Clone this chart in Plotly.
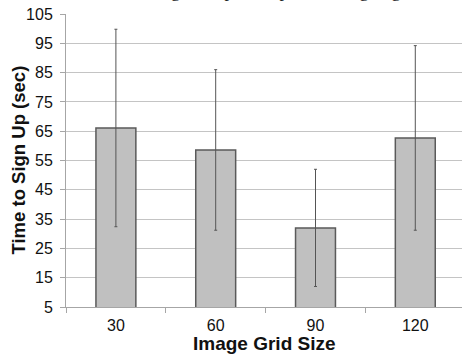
import plotly.graph_objects as go

categories = ["30", "60", "90", "120"]
mean_time = [66.1, 58.6, 32.0, 62.7]
error_time = [33.7, 27.4, 20.0, 31.5]
y_tick_values = [5, 15, 25, 35, 45, 55, 65, 75, 85, 95, 105]

title_text = "Image Setup Time per Grid Signing"

fig = go.Figure()
fig.add_trace(go.Bar(
    x=categories,
    y=mean_time,
    marker=dict(color="#c0c0c0", line=dict(color="#5a5a5a", width=1.5)),
    error_y=dict(type="data", array=error_time, visible=True,
                 color="#555555", thickness=1, width=1.5),
    width=0.4,
))

fig.update_layout(
    width=462, height=358,
    margin=dict(l=66, r=0, t=14, b=51),
    paper_bgcolor="white", plot_bgcolor="white",
    showlegend=False,
    font=dict(family="Liberation Sans", size=16, color="#111"),
    annotations=[
        dict(text=title_text, xref="paper", yref="paper", x=0.52, y=1,
             xanchor="center", yanchor="bottom", yshift=11, showarrow=False,
             font=dict(family="Liberation Serif", size=18, color="#222")),
        dict(text="<b>Image Grid Size</b>", xref="paper", yref="paper",
             x=0.5, y=0, xanchor="center", yanchor="middle", yshift=-36,
             showarrow=False,
             font=dict(family="Liberation Sans", size=19, color="#111")),
        dict(text="<b>Time to Sign Up (sec)</b>", xref="paper", yref="paper",
             x=0, y=0.5, xanchor="center", yanchor="middle", xshift=-48,
             textangle=-90, showarrow=False,
             font=dict(family="Liberation Sans", size=18.5, color="#111")),
    ],
)
fig.update_xaxes(
    type="category", range=[-0.5, 3.468], automargin=False,
    showline=True, linecolor="#a6a6a6", linewidth=1,
    ticks="outside", tickson="boundaries", ticklen=5, tickcolor="#a6a6a6",
    showgrid=False,
    tickfont=dict(family="Liberation Sans", size=16, color="#111"),
    ticklabelstandoff=4,
)
fig.update_yaxes(
    range=[5, 105], tickvals=y_tick_values, automargin=False,
    showline=True, linecolor="#a6a6a6", linewidth=1,
    ticks="outside", ticklen=5, tickcolor="#a6a6a6",
    showgrid=True, gridcolor="#c4c4c4", gridwidth=1,
    zeroline=False,
    tickfont=dict(family="Liberation Sans", size=16, color="#111"),
    ticklabelstandoff=4,
)

fig.write_html("out.html", config={"displayModeBar": False},
               post_script="document.body.style.margin='0px';")
